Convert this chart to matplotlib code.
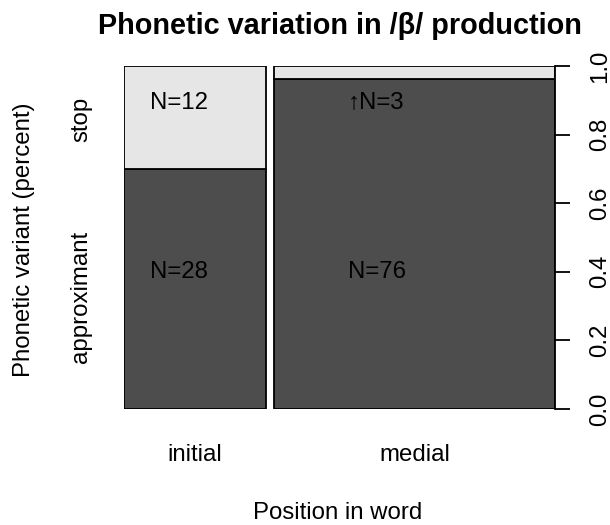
import matplotlib
matplotlib.use("Agg")
import matplotlib.pyplot as plt
import matplotlib.transforms as mtransforms
import numpy as np

plt.rcParams['font.family'] = ['Liberation Sans', 'DejaVu Sans']

positions = ['initial', 'medial']
variants = ['approximant', 'stop']
count_approximant = [28, 76]
count_stop = [12, 3]
y_ticks = [0.0, 0.2, 0.4, 0.6, 0.8, 1.0]
y_ticklabels = ['0.0', '0.2', '0.4', '0.6', '0.8', '1.0']
title = 'Phonetic variation in /β/ production'
xlabel = 'Position in word'
ylabel = 'Phonetic variant (percent)'
annotations = ['N=12', 'N=28', '↑N=3', 'N=76']

colors = ['#4D4D4D', '#E6E6E6']
off = 0.02

DPI = 100
fig = plt.figure(figsize=(6.10, 5.25), dpi=DPI)
W, H = 610, 525
left, right, top, bottom = 124, 555, 66, 409
ax = fig.add_axes([left / W, 1 - bottom / H, (right - left) / W, (bottom - top) / H])

fs = 17.3
totals = np.array(count_approximant) + np.array(count_stop)
widths = totals / totals.sum()
starts = np.concatenate([[0], np.cumsum(widths + off)[:-1]])
prop_app = np.array(count_approximant) / totals
prop_stop = np.array(count_stop) / totals

ax.bar(starts, prop_app, width=widths, align='edge', color=colors[0],
       edgecolor='black', linewidth=1.3)
ax.bar(starts, prop_stop, width=widths, bottom=prop_app, align='edge',
       color=colors[1], edgecolor='black', linewidth=1.3)

ax.set_xlim(0, 1 + off * (len(positions) - 1))
ax.set_ylim(0, 1)

for s in ['top', 'left', 'bottom']:
    ax.spines[s].set_visible(False)
ax.spines['right'].set_linewidth(1.3)
ax.yaxis.tick_right()
ax.set_yticks(y_ticks)
ax.set_yticklabels(y_ticklabels, rotation=90, va='center', fontsize=fs)
ax.tick_params(axis='y', length=10.8, width=1.3, pad=14)
ax.set_xticks([])

# category labels
for s, w, lab in zip(starts, widths, positions):
    ax.text(s + w / 2, -0.135, lab, ha='center', va='center', fontsize=fs,
            transform=ax.transData, clip_on=False)

# variant labels on the left
trans = mtransforms.blended_transform_factory(fig.transFigure, ax.transData)
ax.text(81 / W, 0.327, variants[0], rotation=90, ha='center', va='center',
        fontsize=fs, transform=trans)
ax.text(81 / W, 0.845, variants[1], rotation=90, ha='center', va='center',
        fontsize=fs, transform=trans)

fig.text(24 / W, 1 - 240 / H, ylabel, rotation=90, ha='center', va='center', fontsize=fs)
fig.text(338 / W, 1 - 513 / H, xlabel, ha='center', va='center', fontsize=fs)
fig.text(340 / W, 1 - 26 / H, title, ha='center', va='center', fontsize=fs * 1.2,
         fontweight='bold')

# N annotations
ax.text(0.0615, 0.892, annotations[0], ha='left', va='center', fontsize=fs)
ax.text(0.0615, 0.40, annotations[1], ha='left', va='center', fontsize=fs)
ax.text(0.53, 0.892, annotations[2], ha='left', va='center', fontsize=fs)
ax.text(0.53, 0.40, annotations[3], ha='left', va='center', fontsize=fs)

fig.savefig('out.png', dpi=DPI)
